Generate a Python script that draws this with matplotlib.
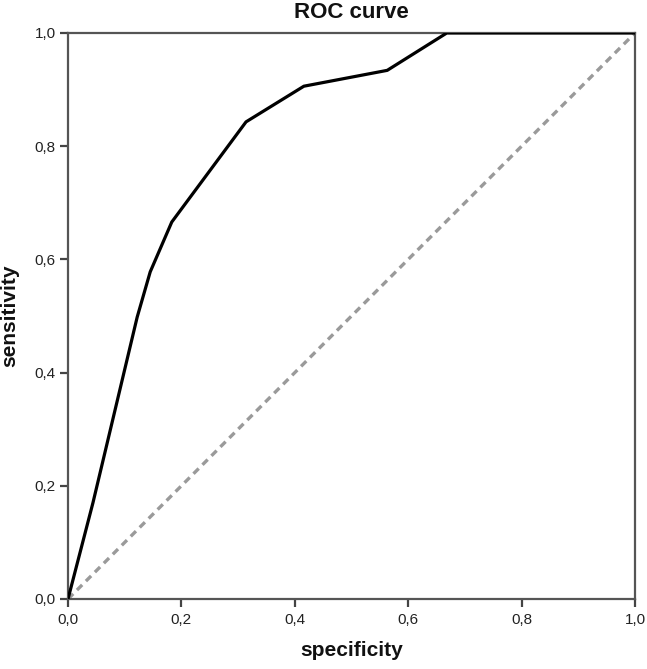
import matplotlib
matplotlib.use("Agg")
import matplotlib.pyplot as plt
from matplotlib.ticker import FuncFormatter

plt.rcParams['font.family'] = ['Liberation Sans', 'DejaVu Sans']

# Data
fpr = [0.0, 0.044, 0.122, 0.145, 0.183, 0.314, 0.416, 0.563, 0.668, 1.0]
tpr = [0.0, 0.17, 0.498, 0.578, 0.666, 0.843, 0.906, 0.934, 1.0, 1.0]
ref_x = [0.0, 1.0]
ref_y = [0.0, 1.0]
ticks = [0.0, 0.2, 0.4, 0.6, 0.8, 1.0]

fig = plt.figure(figsize=(6.47, 6.69), dpi=100)
ax = fig.add_axes([68/647, 1-599/669, 567/647, 566/669])

ax.plot(ref_x, ref_y, color='#9a9a9a', lw=2.4, dashes=(2.2, 1.6), zorder=2)
ax.plot(fpr, tpr, color='black', lw=2.3, zorder=3, solid_joinstyle='round')

ax.set_xlim(0, 1)
ax.set_ylim(0, 1)
ax.set_xticks(ticks)
ax.set_yticks(ticks)
fmt = FuncFormatter(lambda v, p: f"{v:.1f}".replace('.', ','))
ax.xaxis.set_major_formatter(fmt)
ax.yaxis.set_major_formatter(fmt)

for s in ax.spines.values():
    s.set_color('#555555')
    s.set_linewidth(1.6)
ax.tick_params(direction='out', length=6, width=1.6, color='#444444',
               labelsize=11, labelcolor='#222222')
ax.tick_params(axis='x', pad=4)
ax.tick_params(axis='y', pad=3)

ax.set_title('ROC curve', fontsize=16, fontweight='bold', pad=11, color='#111111')
ax.set_xlabel('specificity', fontsize=15, fontweight='bold', labelpad=10, color='#111111')
ax.set_ylabel('sensitivity', fontsize=15, fontweight='bold', labelpad=11, color='#111111')

fig.savefig('out.png', dpi=100)
